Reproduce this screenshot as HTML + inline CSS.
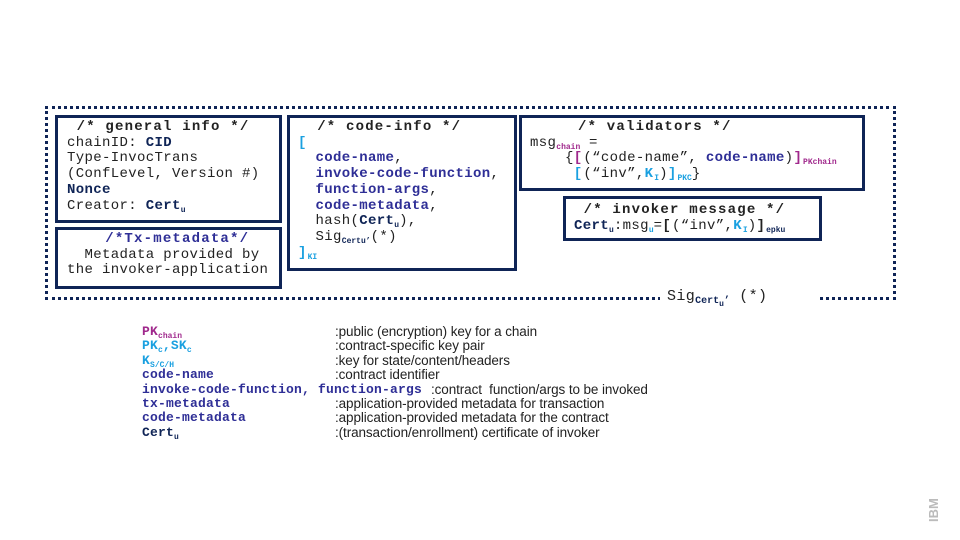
<!DOCTYPE html>
<html><head><meta charset="utf-8"><style>
body{margin:0;width:960px;height:540px;background:#fff;position:relative;overflow:hidden;font-family:"Liberation Mono",monospace;color:#222}
.b{position:absolute;border:3px solid #0f2456;box-sizing:border-box}
.t{position:absolute;font-size:14px;line-height:15.7px;white-space:pre;letter-spacing:0.35px}
.h{font-weight:bold;letter-spacing:1.2px}
.nv{color:#0f2456;font-weight:bold}
.bl{color:#2e2e96;font-weight:bold}
.mg{color:#a0288c}
.cy{color:#1aa0e0}
sub{font-size:8px;vertical-align:baseline;position:relative;top:3px;line-height:0;font-weight:bold;letter-spacing:0}
.lg{position:absolute;left:142px;font-size:13px;line-height:14.4px;white-space:pre;font-weight:bold;color:#2e2e96;letter-spacing:0.2px}
.ld{position:absolute;left:335px;font-family:"Liberation Sans",sans-serif;font-size:13.5px;line-height:14.4px;color:#222;letter-spacing:-0.1px;white-space:pre}
</style></head><body>
<div style="position:absolute;left:45px;top:106px;width:851px;height:194px;border:3px dotted #0f2456;box-sizing:border-box"></div>
<div style="position:absolute;left:660px;top:288px;width:160px;height:20px;background:#fff"></div>
<div class="t" style="left:667px;top:289px;font-size:15px"><span style="color:#222">Sig</span><sub class="nv" style="font-size:10px">Cert<sub style="font-size:8px">u</sub>’</sub> (*)</div>

<div class="b" style="left:55px;top:115px;width:227px;height:108px"></div>
<div class="t" style="left:67px;top:120px"><span class="h"> /* general info */</span>
chainID: <span class="nv">CID</span>
Type-InvocTrans
(ConfLevel, Version #)
<span class="nv">Nonce</span>
Creator: <span class="nv">Cert</span><sub class="nv">u</sub></div>

<div class="b" style="left:55px;top:227px;width:227px;height:62px"></div>
<div class="t" style="left:67px;top:232px;text-align:center"><span class="bl" style="letter-spacing:1.2px">  /*Tx-metadata*/</span>
 Metadata provided by
the invoker-application</div>

<div class="b" style="left:287px;top:115px;width:230px;height:156px"></div>
<div class="t" style="left:298px;top:120px"><span class="h">  /* code-info */</span>
<span class="cy h">[</span>
  <span class="bl">code-name</span>,
  <span class="bl">invoke-code-function</span>,
  <span class="bl">function-args</span>,
  <span class="bl">code-metadata</span>,
  hash(<span class="nv">Cert</span><sub class="nv">u</sub>),
  Sig<sub class="nv">Certu’</sub>(*)
<span class="cy h">]</span><sub class="cy">KI</sub></div>

<div class="b" style="left:519px;top:115px;width:346px;height:76px"></div>
<div class="t" style="left:530px;top:120px"><span class="h">     /* validators */</span>
msg<sub class="mg">chain</sub> =
    {<span class="mg h">[</span>(“code-name”, <span class="bl">code-name</span>)<span class="mg h">]</span><sub class="mg">PKchain</sub>
     <span class="cy h">[</span>(“inv”,<span class="cy h">K<sub>I</sub></span>)<span class="cy h">]</span><sub class="cy">PKC</sub>}</div>

<div class="b" style="left:563px;top:196px;width:259px;height:45px"></div>
<div class="t" style="left:574px;top:203px"><span class="h"> /* invoker message */</span>
<span class="nv">Cert</span><sub class="nv">u</sub>:msg<sub class="cy">u</sub>=<span class="h">[</span>(“inv”,<span class="cy h">K<sub>I</sub></span>)<span class="h">]</span><sub class="nv">epku</sub></div>

<div class="lg" style="top:325px"><span class="mg">PK<sub>chain</sub></span>
<span class="cy">PK<sub>c</sub>,SK<sub>c</sub></span>
<span class="cy">K<sub>S/C/H</sub></span>
code-name
invoke-code-function, function-args
tx-metadata
code-metadata
<span style="color:#0f2456">Cert<sub>u</sub></span></div>
<div class="ld" style="top:325px">:public (encryption) key for a chain
:contract-specific key pair
:key for state/content/headers
:contract identifier
<span style="margin-left:96px">:contract  function/args to be invoked</span>
:application-provided metadata for transaction
:application-provided metadata for the contract
:(transaction/enrollment) certificate of invoker</div>
<div style="position:absolute;left:926px;top:484px;width:16px;height:38px;font-family:'Liberation Sans',sans-serif;font-weight:bold;color:#bbb;font-size:13px;writing-mode:vertical-rl;transform:rotate(180deg)">IBM</div>
</body></html>
